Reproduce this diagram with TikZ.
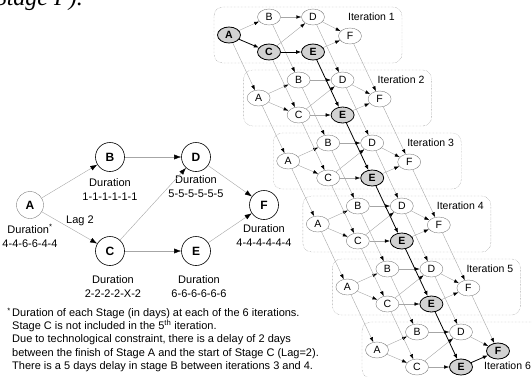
\documentclass[tikz,border=0pt]{standalone}
\usepackage{fontspec}
\setmainfont{Liberation Serif}
\setsansfont{Liberation Sans}
\usetikzlibrary{positioning,arrows.meta,shapes.geometric,backgrounds}
\tikzset{
  stage/.style={circle, draw, semithick, fill=white, minimum size=29pt, inner sep=0pt, font=\sffamily\bfseries\fontsize{12}{12}\selectfont},
  dur/.style={align=center, inner sep=0pt, font=\sffamily\fontsize{11}{14}\selectfont},
  foot/.style={align=left, inner sep=0pt, font=\sffamily\fontsize{11}{13.4}\selectfont},
  it/.style={ellipse, draw=gray, fill=white, minimum width=23pt, minimum height=16pt, inner sep=0pt, font=\sffamily\fontsize{10.5}{10.5}\selectfont},
  crit/.style={it, draw=black, thick, fill=gray!35, font=\sffamily\bfseries\fontsize{10.5}{10.5}\selectfont},
  itbox/.style={draw=gray, densely dotted, rounded corners=9pt},
  lbl/.style={inner sep=0pt, font=\sffamily\fontsize{10.5}{10.5}\selectfont},
  arr/.style={-{Latex[length=7pt,width=5pt,color=black]}, draw=gray!70},
  sarr/.style={-{Latex[length=5pt,width=3.5pt,color=black]}, draw=gray!70},
  carr/.style={-{Latex[length=5pt,width=4pt]}, thick, black},
}

\begin{document}
\begin{tikzpicture}[x=1pt, y=-1pt]
  \useasboundingbox (0,0) rectangle (532,376);
  \clip (0,0) rectangle (532,376);

  % cut-off text of the page above
  \node[anchor=base east, inner sep=0pt, font=\itshape\fontsize{24}{24}\selectfont] (page) at (83,5) {Stage F).};

  % network of stages
  \node[stage, draw=gray, thin, minimum size=27pt] (A) at (30,205) {A};
  \node[stage] (B) at (110,157) {B};
  \node[stage] (C) at (110,251) {C};
  \node[stage] (D) at (196,157) {D};
  \node[stage] (E) at (196,251) {E};
  \node[stage] (F) at (264,205) {F};

  \node[dur, below=5pt of A] (durA) {Duration\textsuperscript{*}\\4-4-6-6-4-4};
  \node[dur, below=7pt of B] (durB) {Duration\\1-1-1-1-1-1};
  \node[dur, below=4pt of D] (durD) {Duration\\5-5-5-5-5-5};
  \node[dur, below=5pt of F] (durF) {Duration\\4-4-4-4-4-4};
  \node[dur, below=10pt of C, xshift=3pt] (durC) {Duration\\2-2-2-2-X-2};
  \node[dur, below=10pt of E, xshift=3pt] (durE) {Duration\\6-6-6-6-6-6};
  \node[dur] (lag) at (80,221) {Lag 2};

  \draw[arr] (A) -- (B);
  \draw[arr] (A) -- (C);
  \draw[arr] (B) -- (D);
  \draw[arr] (C) -- (D);
  \draw[arr] (C) -- (E);
  \draw[arr] (D) -- (F);
  \draw[arr] (E) -- (F);

  \node[foot, anchor=north west] (note) at (12,308) {Duration of each Stage (in days) at each of the 6 iterations.\\
    Stage C is not included in the 5\textsuperscript{th} iteration.\\
    Due to technological constraint, there is a delay of 2 days\\
    between the finish of Stage A and the start of Stage C (Lag=2).\\
    There is a 5 days delay in stage B between iterations 3 and 4.};
  \node[foot, anchor=north east] (star) at ([xshift=-1pt]note.north west) {\textsuperscript{*}};

  % the 6 iterations
  \foreach \i in {1,...,6}{
    \pgfmathsetmacro\px{229+(\i-1)*29.6}
    \pgfmathsetmacro\py{35+(\i-1)*63}
    \ifnum\i=1 \def\st{crit}\else\def\st{it}\fi
    \ifnum\i=6 \def\fst{crit}\else\def\fst{it}\fi
    \begin{scope}[shift={(\px,\py)}]
      \node[\st] (A\i) at (0,0) {A};
      \node[it] (B\i) at (40,-18) {B};
      \node[\st] (C\i) at (40,17) {C};
      \node[it] (D\i) at (84,-18) {D};
      \node[crit] (E\i) at (84,17) {E};
      \node[\fst] (F\i) at (121,1) {F};
      \ifnum\i<6
        \node[lbl, anchor=east] (lbl\i) at (166,-18) {Iteration \i};
      \else
        \node[lbl, anchor=west] (lbl\i) at (107,16) {Iteration \i};
      \fi
      \begin{scope}[on background layer]
        \draw[itbox] (-15,-28) rectangle (173,28);
      \end{scope}
    \end{scope}
    \begin{scope}[on background layer]
      \draw[sarr] (A\i) -- (B\i);
      \draw[sarr] (B\i) -- (D\i);
      \draw[sarr] (C\i) -- (D\i);
      \draw[sarr] (D\i) -- (F\i);
      \ifnum\i>1
        \draw[sarr] (A\i) -- (C\i);
        \draw[sarr] (C\i) -- (E\i);
      \fi
      \ifnum\i<6
        \draw[sarr] (E\i) -- (F\i);
      \fi
    \end{scope}
  }

  % links between iterations
  \begin{scope}[on background layer]
    \foreach \i [evaluate=\i as \j using int(\i+1)] in {1,...,5}{
      \foreach \n in {A,B,C,D,F}
        \draw[sarr] (\n\i) -- (\n\j);
      \draw[carr] (E\i) -- (E\j);
    }
    \draw[carr] (A1) -- (C1);
    \draw[carr] (C1) -- (E1);
    \draw[carr] (E6) -- (F6);
  \end{scope}
\end{tikzpicture}
\end{document}
